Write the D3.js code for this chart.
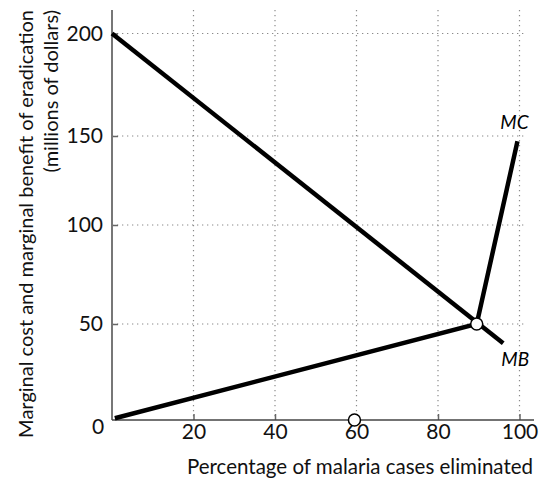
<!DOCTYPE html>
<html>
<head>
<meta charset="utf-8">
<script src="https://cdn.jsdelivr.net/npm/d3@7"></script>
<style>
  html, body { margin: 0; padding: 0; background: #fff; }
  svg { display: block; font-family: "Lato", "Noto Sans", sans-serif; }
</style>
</head>
<body>
<svg id="chart" width="548" height="481"></svg>
<script>
// ---- data ----
const xTicks = [20, 40, 60, 80, 100];
const yTicks = [50, 100, 150, 200];
const mbPoints = [[0, 200], [96, 40]];
const mcPoints = [[0.7, 0.9], [89.5, 50], [99.5, 147]];
const equilibrium = [[89.5, 50], [59.5, 0]];
const curveLabels = [["MC", 99.5, 147], ["MB", 96, 40]];
const xTitle = "Percentage of malaria cases eliminated";
const yTitle = ["Marginal cost and marginal benefit of eradication", "(millions of dollars)"];

// ---- layout ----
const svg = d3.select("#chart");
const x = d3.scaleLinear().domain([0, 100]).range([112, 519.5]);
// the printed figure's vertical spacing is uneven; a polylinear scale follows it
const y = d3.scaleLinear().domain([0, 50, 100, 150, 200]).range([420, 324, 225, 136, 33.5]);

const gridColor = "#8a8a8a";
const tickFont = 21;
// vertical grid
svg.append("g").selectAll("line").data(xTicks).join("line")
  .attr("x1", d => x(d)).attr("x2", d => x(d))
  .attr("y1", 10).attr("y2", y(0))
  .attr("stroke", gridColor).attr("stroke-width", 1.2)
  .attr("stroke-dasharray", "1.3,3.7");
// horizontal grid
svg.append("g").selectAll("line").data(yTicks).join("line")
  .attr("x1", x(0)).attr("x2", 525)
  .attr("y1", d => y(d)).attr("y2", d => y(d))
  .attr("stroke", gridColor).attr("stroke-width", 1.2)
  .attr("stroke-dasharray", "1.3,3.7");

// axes
const yAxis = d3.axisLeft(y).tickValues(yTicks).tickSize(-6).tickPadding(9);
const gy = svg.append("g").attr("transform", `translate(${x(0)},0)`).call(yAxis);
gy.select(".domain").remove();
gy.selectAll(".tick line").attr("stroke", "#666").attr("stroke-width", 1.5);
gy.selectAll(".tick text").attr("font-size", tickFont).attr("fill", "#111")
  .attr("font-family", "Lato, 'Noto Sans', sans-serif");

const xAxis = d3.axisBottom(x).tickValues(xTicks).tickSize(-6).tickPadding(4);
const gx = svg.append("g").attr("transform", `translate(0,${y(0)})`).call(xAxis);
gx.select(".domain").remove();
gx.selectAll(".tick line").attr("stroke", "#666").attr("stroke-width", 1.5);
gx.selectAll(".tick text").attr("font-size", tickFont).attr("fill", "#111")
  .attr("font-family", "Lato, 'Noto Sans', sans-serif");

// axis lines
svg.append("line").attr("x1", x(0)).attr("x2", x(0)).attr("y1", 10).attr("y2", y(0))
  .attr("stroke", "#777").attr("stroke-width", 2);
svg.append("line").attr("x1", x(0)).attr("x2", 534).attr("y1", y(0)).attr("y2", y(0))
  .attr("stroke", "#444").attr("stroke-width", 1.5);

// zero label
svg.append("text").attr("x", 98).attr("y", 434).attr("text-anchor", "middle")
  .attr("font-size", tickFont).attr("fill", "#111").text("0");

// curves
const line = d3.line().x(d => x(d[0])).y(d => y(d[1]));
svg.append("path").datum(mbPoints).attr("d", line)
  .attr("fill", "none").attr("stroke", "#000").attr("stroke-width", 4.5);
svg.append("path").datum(mcPoints).attr("d", line)
  .attr("fill", "none").attr("stroke", "#000").attr("stroke-width", 4.5)
  .attr("stroke-linejoin", "miter");

// circles
svg.append("g").selectAll("circle").data(equilibrium).join("circle")
  .attr("cx", d => x(d[0])).attr("cy", d => y(d[1])).attr("r", 6)
  .attr("fill", "#fff").attr("stroke", "#000").attr("stroke-width", 1.5);

// curve labels
svg.append("text").attr("x", x(curveLabels[0][1]) - 3).attr("y", y(curveLabels[0][2]) - 12)
  .attr("text-anchor", "middle").attr("font-size", 19).attr("font-style", "italic")
  .text(curveLabels[0][0]);
svg.append("text").attr("x", x(curveLabels[1][1]) + 12).attr("y", y(curveLabels[1][2]) + 23)
  .attr("text-anchor", "middle").attr("font-size", 19).attr("font-style", "italic")
  .text(curveLabels[1][0]);

// titles
svg.append("text").attr("x", 533).attr("y", 474).attr("text-anchor", "end")
  .attr("font-size", 20.5).attr("fill", "#111").text(xTitle);
svg.append("text").attr("transform", "translate(33,10) rotate(-90)")
  .attr("text-anchor", "end").attr("font-size", 20).attr("fill", "#111").text(yTitle[0]);
svg.append("text").attr("transform", "translate(58,10) rotate(-90)")
  .attr("text-anchor", "end").attr("font-size", 20).attr("fill", "#111").text(yTitle[1]);
</script>
</body>
</html>
